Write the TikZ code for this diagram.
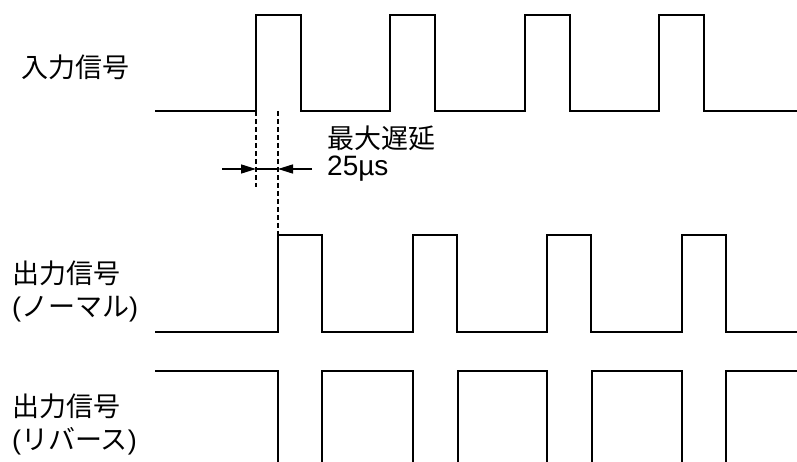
\documentclass[tikz,border=0pt]{standalone}
\usepackage{fontspec}
\setmainfont{Liberation Sans}
\newfontfamily\jpfont{Noto Sans CJK JP}
\usetikzlibrary{arrows.meta}

\tikzset{
  sig/.style={line width=2.2pt,line join=miter},
  guide/.style={line width=1.1pt,dash pattern=on 5pt off 3pt},
  dim/.style={line width=1.4pt,-{Triangle[length=15pt,width=9pt]}},
  lbl/.style={anchor=west,inner sep=0pt,align=left,font=\fontsize{27}{33}\selectfont},
}

\begin{document}
\begin{tikzpicture}[x=1pt,y=-1pt]
  \useasboundingbox (0,0) rectangle (797,462);
  %% labels
  \node[lbl] (inlbl) at (21,67) {\jpfont 入力信号};
  \node[lbl] (normlbl) at (12,291) {{\jpfont 出力信号}\\({\jpfont ノーマル})};
  \node[lbl] (revlbl) at (12,424) {{\jpfont 出力信号}\\({\jpfont リバース})};
  \node[lbl] (delaylbl) at (327,138) {\jpfont 最大遅延};
  \node[lbl,font=\fontsize{28}{33}\selectfont] (timelbl) at (327,169) {25µs};
  %% input
  \draw[sig] (155,111) foreach \x in {256,390,525,659} {
      -- (\x,111) -- (\x,15) -- ({\x+45},15) -- ({\x+45},111) } -- (797,111);
  %% output (normal)
  \draw[sig] (155,332) foreach \x in {278,413,547,682} {
      -- (\x,332) -- (\x,235) -- ({\x+44},235) -- ({\x+44},332) } -- (797,332);
  %% output (reverse)
  \draw[sig] (155,371) -- (278,371) -- (278,462)
    foreach \x/\y in {322/413,458/547,592/682} {
      (\x,462) -- (\x,371) -- (\y,371) -- (\y,462) }
    (726,462) -- (726,371) -- (797,371);
  %% delay
  \coordinate (rise) at (256,111);
  \coordinate (out) at (278,235);
  \coordinate (la) at (222,169);
  \coordinate (ra) at (312,169);
  \draw[guide] (rise) -- (256,187);
  \draw[guide] (278,111) -- (out);
  \draw[dim] (la) -- (256,169);
  \draw[dim] (ra) -- (278,169);
  \draw[line width=1.4pt] (256,169) -- (278,169);
\end{tikzpicture}
\end{document}
